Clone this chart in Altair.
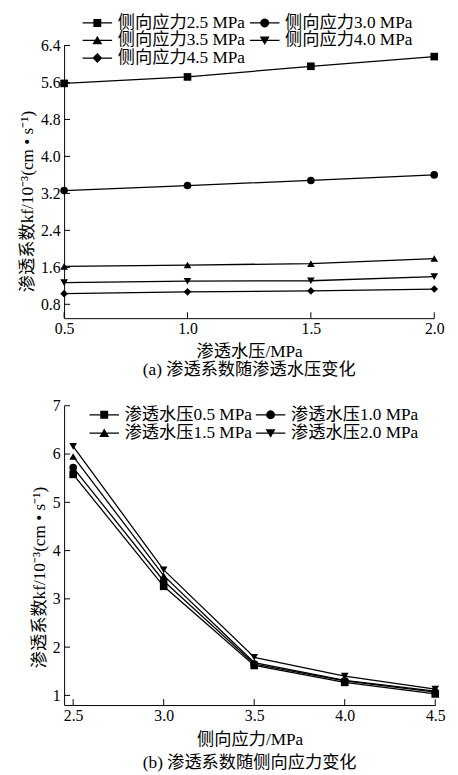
import math
import altair as alt
import pandas as pd

# ---- data ----
pressures = [0.5, 1.0, 1.5, 2.0]            # 渗透水压 / MPa
stresses = [2.5, 3.0, 3.5, 4.0, 4.5]         # 侧向应力 / MPa
k_s25 = [5.58, 5.72, 5.95, 6.16]
k_s30 = [3.26, 3.37, 3.48, 3.60]
k_s35 = [1.62, 1.65, 1.68, 1.79]
k_s40 = [1.27, 1.30, 1.31, 1.40]
k_s45 = [1.03, 1.07, 1.09, 1.13]
k_rows = [k_s25, k_s30, k_s35, k_s40, k_s45]

stress_labels = ["侧向应力2.5 MPa", "侧向应力3.0 MPa", "侧向应力3.5 MPa",
                 "侧向应力4.0 MPa", "侧向应力4.5 MPa"]
pressure_labels = ["渗透水压0.5 MPa", "渗透水压1.0 MPa",
                   "渗透水压1.5 MPa", "渗透水压2.0 MPa"]

a_xticks = [0.5, 1.0, 1.5, 2.0]
a_yticks = [0.8, 1.6, 2.4, 3.2, 4.0, 4.8, 5.6, 6.4]
b_xticks = [2.5, 3.0, 3.5, 4.0, 4.5]
b_yticks = [1, 2, 3, 4, 5, 6, 7]

Y_TITLE = "渗透系数kf/10⁻³(cm • s⁻¹)"

rows = []
for i, s in enumerate(stresses):
    for j, p in enumerate(pressures):
        rows.append({"stress": s, "pressure": p, "k": k_rows[i][j],
                     "s_label": stress_labels[i], "p_label": pressure_labels[j]})
df = pd.DataFrame(rows)

FONT = "'Liberation Serif', 'Noto Sans CJK SC', serif"

plot_shapes = ["square", "circle", "triangle-up", "triangle-down", "diamond"]

# legend glyphs: a short line with the marker on it (all sub-paths clockwise)
LINE = "M-3,-0.13H3V0.13H-3Z"
_circ = "M" + "L".join(f"{0.9 * math.cos(2 * math.pi * t / 20):.3f},{0.9 * math.sin(2 * math.pi * t / 20):.3f}"
                       for t in range(20)) + "Z"
legend_paths = [
    LINE + "M-0.8,-0.8H0.8V0.8H-0.8Z",
    LINE + _circ,
    LINE + "M-1,0.8L0,-0.95L1,0.8Z",
    LINE + "M1,-0.8L0,0.95L-1,-0.8Z",
    LINE + "M-1,0L0,-1L1,0L0,1Z",
]

AX = dict(ticks=False, tickSize=0, grid=False, domainColor="black", domainWidth=1,
          labelColor="black", titleColor="black", labelFont=FONT, titleFont=FONT,
          labelFontSize=16, titleFontSize=17.5, titleFontWeight="normal")


def panel(xfield, sfield, order, xdom, ydom, xticks, yticks, xfmt, yfmt,
          xtitle, caption, W, H, lx, ly, rowpad, colpad, title_y, xlabpad, xtitlepad, capoff):
    n = len(order)
    xsc = alt.Scale(domain=xdom, nice=False, zero=False)
    ysc = alt.Scale(domain=ydom, nice=False, zero=False)
    xax = alt.Axis(values=xticks, format=xfmt, title=xtitle, labelPadding=xlabpad,
                   titlePadding=xtitlepad, labelFlush=False, **AX)
    yax = alt.Axis(values=yticks, format=yfmt, title=Y_TITLE, labelPadding=4,
                   titlePadding=4, titleY=title_y, **AX)
    base = alt.Chart(df)
    X = alt.X(f"{xfield}:Q", scale=xsc, axis=xax)
    Y = alt.Y("k:Q", scale=ysc, axis=yax)
    line = base.mark_line(color="black", strokeWidth=1.3).encode(
        x=X, y=Y,
        detail=alt.Detail(f"{sfield}:N"),
        order=alt.Order(f"{xfield}:Q"),
    )
    pts = base.mark_point(filled=True, color="black", size=60, opacity=1).encode(
        x=X, y=Y,
        shape=alt.Shape(f"{sfield}:N",
                        scale=alt.Scale(domain=order, range=plot_shapes[:n]),
                        legend=None),
    )
    leg = base.mark_point(filled=True, color="black", opacity=0).encode(
        x=X, y=Y,
        shape=alt.Shape(f"{sfield}:N",
                        scale=alt.Scale(domain=order, range=legend_paths[:n]),
                        legend=alt.Legend(title=None, orient="none", legendX=lx, legendY=ly,
                                          columns=2, direction="horizontal",
                                          symbolSize=100,
                                          symbolFillColor="black",
                                          symbolOpacity=1, labelFont=FONT, labelFontSize=17.5,
                                          labelColor="black", labelOffset=12,
                                          columnPadding=colpad, rowPadding=rowpad,
                                          labelLimit=300)),
    )
    yt = alt.Chart(pd.DataFrame({"v": yticks})).mark_rule(color="black", strokeWidth=1).encode(
        y=alt.Y("v:Q", scale=ysc, axis=yax), x=alt.value(0), x2=alt.value(6))
    xt = alt.Chart(pd.DataFrame({"v": xticks})).mark_rule(color="black", strokeWidth=1).encode(
        x=alt.X("v:Q", scale=xsc, axis=xax), y=alt.value(H), y2=alt.value(H - 6))
    return alt.layer(line, pts, leg, yt, xt).resolve_scale(shape="independent").properties(
        width=W, height=H,
        title=alt.TitleParams(caption, orient="bottom", font=FONT, fontSize=17.5,
                              fontWeight="normal", color="black", offset=capoff),
    )


top = panel("pressure", "s_label", stress_labels, [0.5, 2.0], [0.5, 6.4],
            a_xticks, a_yticks, ".1f", ".1f", "渗透水压/MPa", "(a) 渗透系数随渗透水压变化",
            376, 277, 25, -32, -1, 1, 158, 3, 6, 1)
bottom = panel("stress", "p_label", pressure_labels, [2.45, 4.5], [0.8, 7],
               b_xticks, b_yticks, ".1f", "d", "侧向应力/MPa", "(b) 渗透系数随侧向应力变化",
               377, 304, 32, 0, 0, 0, 174, 3, 7, 6)

chart = alt.vconcat(top, bottom, spacing=20).properties(
    padding={"left": 11, "top": 0, "right": 5, "bottom": 0},
    background="white",
).configure_view(stroke=None)

chart.save("out.html", embed_options={"renderer": "svg", "actions": False})
